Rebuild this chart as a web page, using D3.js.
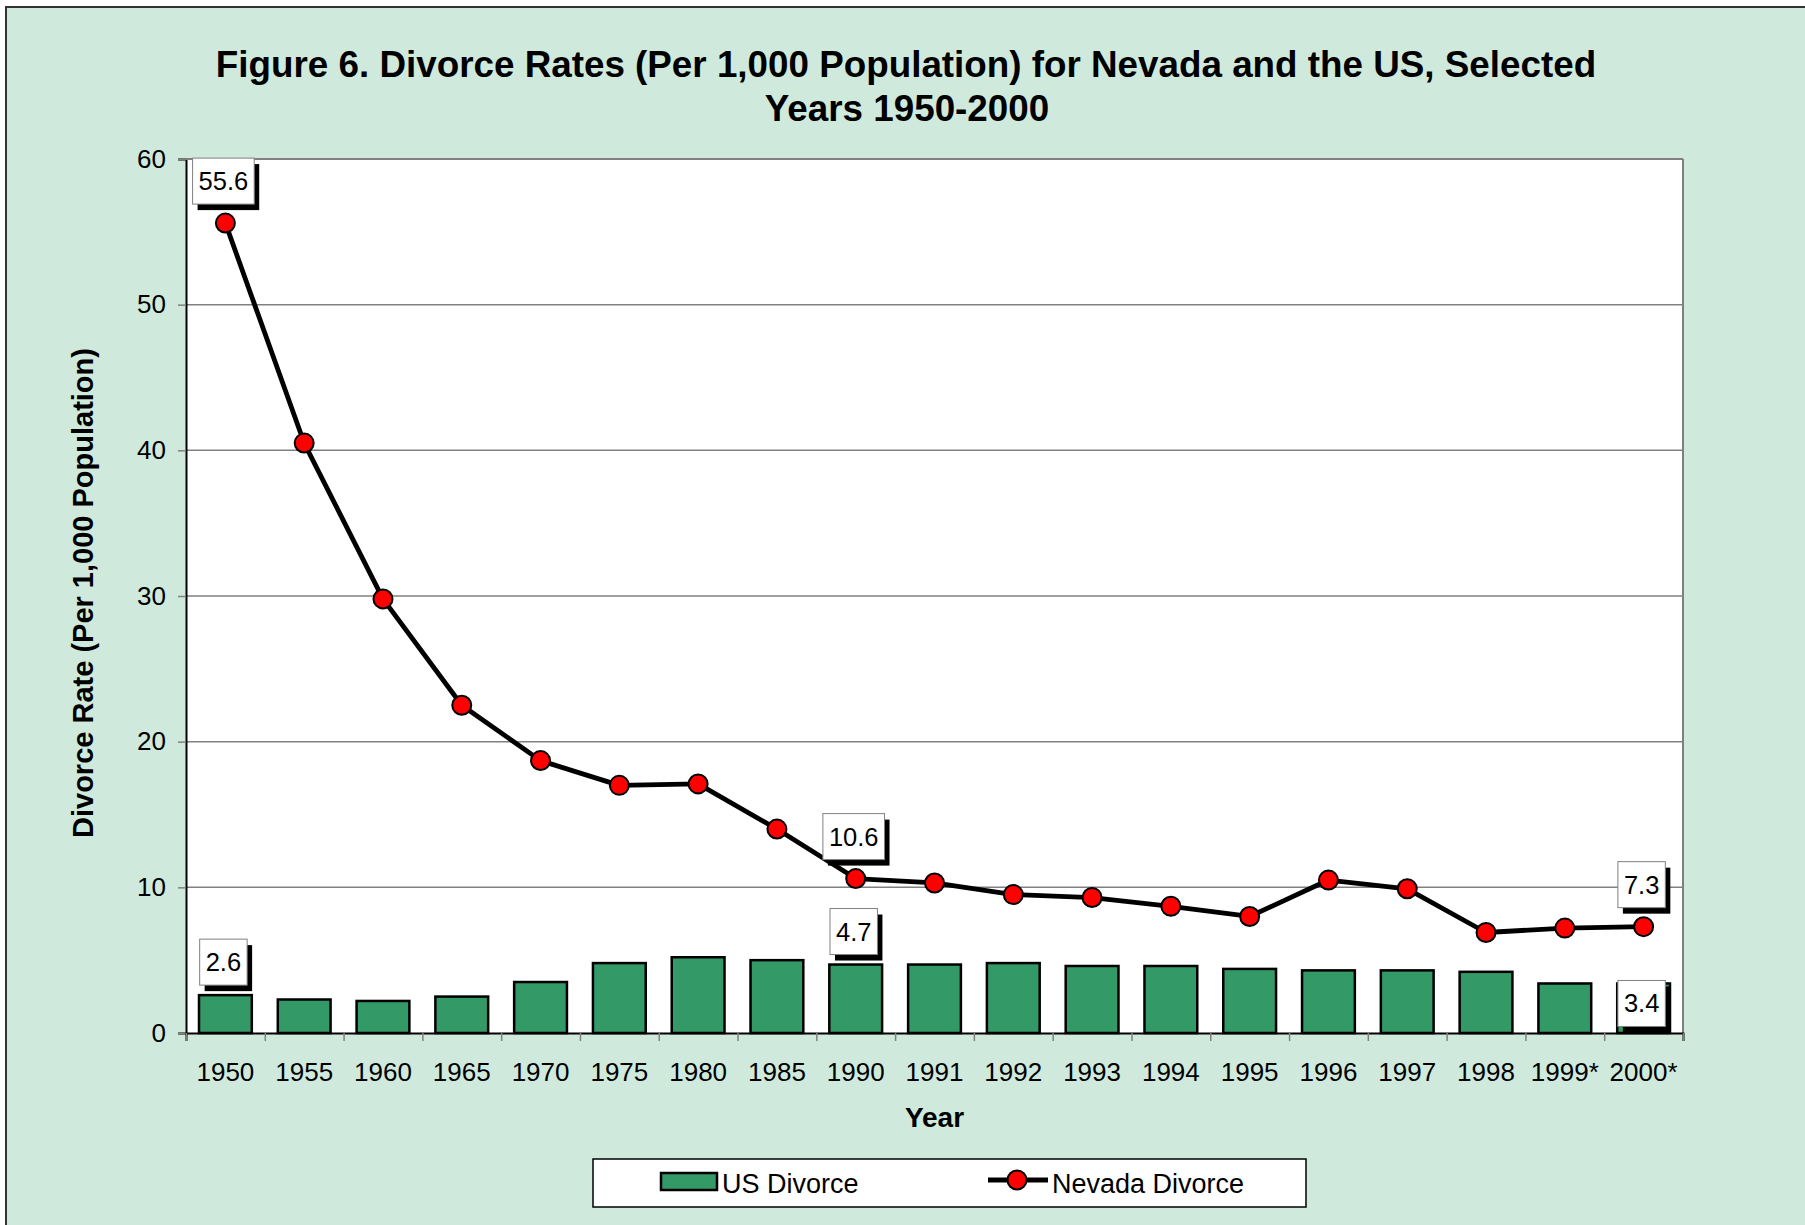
<!DOCTYPE html>
<html>
<head>
<meta charset="utf-8">
<script src="https://cdn.jsdelivr.net/npm/d3@7"></script>
<style>
  body { margin: 0; background: #fff; }
  svg { display: block; font-family: "Liberation Sans", Arial, sans-serif; }
</style>
</head>
<body>
<svg id="chart"></svg>
<script>
// data
const years = ["1950", "1955", "1960", "1965", "1970", "1975", "1980", "1985", "1990",
    "1991", "1992", "1993", "1994", "1995", "1996", "1997", "1998", "1999*", "2000*"];
const usDivorce = [2.6, 2.3, 2.2, 2.5, 3.5, 4.8, 5.2, 5.0, 4.7,
    4.7, 4.8, 4.6, 4.6, 4.4, 4.3, 4.3, 4.2, 3.4, 3.4];
const nevadaDivorce = [55.6, 40.5, 29.8, 22.5, 18.7, 17.0, 17.1, 14.0, 10.6,
    10.3, 9.5, 9.3, 8.7, 8.0, 10.5, 9.9, 6.9, 7.2, 7.3];
const yTicks = [0, 10, 20, 30, 40, 50, 60];
// which points carry a value label
const usLabelled = [0, 8, 18];
const nevadaLabelled = [0, 8, 18];

const width = 1805, height = 1225;
const margins = { top: 159, right: 122, bottom: 192, left: 186 };
const graphWidth = width - margins.left - margins.right;
const graphHeight = height - margins.top - margins.bottom;

const svg = d3.select("#chart")
    .attr("width", width)
    .attr("height", height);

// chart area background + border
svg.append("rect")
    .attr("x", 6).attr("y", 7)
    .attr("width", width + 10).attr("height", height + 10)
    .attr("fill", "#cfeadd")
    .attr("stroke", "#333")
    .attr("stroke-width", 2);

// title
const title = svg.append("text")
    .attr("text-anchor", "middle")
    .attr("font-size", "36.8px")
    .attr("font-weight", "bold")
    .attr("fill", "#000");
title.append("tspan").attr("x", 906).attr("y", 77)
    .text("Figure 6. Divorce Rates (Per 1,000 Population) for Nevada and the US, Selected");
title.append("tspan").attr("x", 907).attr("y", 121)
    .text("Years 1950-2000");

const g = svg.append("g")
    .attr("transform", `translate(${margins.left}, ${margins.top})`);

// scales
const xScale = d3.scaleBand()
    .domain(years)
    .range([0, graphWidth])
    .paddingInner(0.33)
    .paddingOuter(0.165);
const xEdge = d3.scaleLinear()
    .domain([0, years.length])
    .range([0, graphWidth]);
const yScale = d3.scaleLinear()
    .domain([0, 60])
    .range([graphHeight, 0]);
const cx = d => xScale(d) + xScale.bandwidth() / 2;

// plot area
g.append("rect")
    .attr("width", graphWidth)
    .attr("height", graphHeight)
    .attr("fill", "#fff");

// gridlines
g.append("g")
    .selectAll("line")
    .data(yTicks.filter(t => t > 0))
    .join("line")
    .attr("x1", 0).attr("x2", graphWidth)
    .attr("y1", d => yScale(d)).attr("y2", d => yScale(d))
    .attr("stroke", "#808080")
    .attr("stroke-width", 1.5);

// right border
g.append("line")
    .attr("x1", graphWidth).attr("x2", graphWidth)
    .attr("y1", 0).attr("y2", graphHeight)
    .attr("stroke", "#808080").attr("stroke-width", 2);

// bars
g.append("g")
    .selectAll("rect")
    .data(usDivorce)
    .join("rect")
    .attr("x", (d, i) => xScale(years[i]))
    .attr("y", d => yScale(d))
    .attr("width", xScale.bandwidth())
    .attr("height", d => graphHeight - yScale(d))
    .attr("fill", "#339966")
    .attr("stroke", "#000")
    .attr("stroke-width", 2.5);

// axes
const yAxis = d3.axisLeft(yScale)
    .tickValues(yTicks)
    .tickSize(8)
    .tickPadding(12);
const yAxisGroup = g.append("g").call(yAxis);
yAxisGroup.select(".domain").attr("stroke", "#000").attr("stroke-width", 2);
yAxisGroup.selectAll(".tick line").attr("stroke", "#808080").attr("stroke-width", 1.5);
yAxisGroup.selectAll("text")
    .attr("font-size", "26px")
    .attr("font-family", "Liberation Sans, Arial, sans-serif")
    .attr("fill", "#000");

const xTickGroup = g.append("g")
    .attr("transform", `translate(0, ${graphHeight})`)
    .call(d3.axisBottom(xEdge).tickValues(d3.range(years.length + 1)).tickFormat("").tickSize(8));
xTickGroup.select(".domain").attr("stroke", "#000").attr("stroke-width", 2);
xTickGroup.selectAll(".tick line").attr("stroke", "#808080").attr("stroke-width", 1.5);

const xAxisGroup = g.append("g")
    .attr("transform", `translate(0, ${graphHeight})`)
    .call(d3.axisBottom(xScale).tickSize(0).tickPadding(30));
xAxisGroup.select(".domain").remove();
xAxisGroup.selectAll("text")
    .attr("font-size", "26px")
    .attr("font-family", "Liberation Sans, Arial, sans-serif")
    .attr("fill", "#000");

// top border drawn last over the grid
g.append("line")
    .attr("x1", 0).attr("x2", graphWidth)
    .attr("y1", 0).attr("y2", 0)
    .attr("stroke", "#808080").attr("stroke-width", 2);

// Nevada line + markers
const line = d3.line()
    .x((d, i) => cx(years[i]))
    .y(d => yScale(d));
g.append("path")
    .datum(nevadaDivorce)
    .attr("d", line)
    .attr("fill", "none")
    .attr("stroke", "#000")
    .attr("stroke-width", 4.8)
    .attr("stroke-linejoin", "round");
g.append("g")
    .selectAll("circle")
    .data(nevadaDivorce)
    .join("circle")
    .attr("cx", (d, i) => cx(years[i]))
    .attr("cy", d => yScale(d))
    .attr("r", 9.5)
    .attr("fill", "#ff0000")
    .attr("stroke", "#000")
    .attr("stroke-width", 2);

// value labels: white box with a black drop shadow
function dataLabel(value, x, boxBottom) {
    const lab = g.append("g");
    const t = lab.append("text")
        .attr("text-anchor", "middle")
        .attr("font-size", "25.5px")
        .attr("fill", "#000")
        .text(value);
    const w = t.node().getComputedTextLength() + 12;
    const h = 46;
    lab.insert("rect", "text")
        .attr("x", x - w / 2 + 5).attr("y", boxBottom - h + 6)
        .attr("width", w).attr("height", h)
        .attr("fill", "#000");
    lab.insert("rect", "text")
        .attr("x", x - w / 2).attr("y", boxBottom - h)
        .attr("width", w).attr("height", h)
        .attr("fill", "#fff")
        .attr("stroke", "#808080")
        .attr("stroke-width", 1);
    t.attr("x", x).attr("y", boxBottom - h / 2 + 9);
}

nevadaLabelled.forEach(i => {
    dataLabel(nevadaDivorce[i], cx(years[i]) - 2, yScale(nevadaDivorce[i]) - 19);
});
usLabelled.forEach((i, k) => {
    // last one sits pushed down into the bar, as in the original
    const bottom = k === usLabelled.length - 1
        ? yScale(usDivorce[i]) + 43
        : yScale(usDivorce[i]) - 10;
    dataLabel(usDivorce[i], cx(years[i]) - 2, bottom);
});

// axis titles
svg.append("text")
    .attr("transform", `translate(93, ${margins.top + graphHeight / 2 - 3}) rotate(-90)`)
    .attr("text-anchor", "middle")
    .attr("font-size", "29px")
    .attr("font-weight", "bold")
    .text("Divorce Rate (Per 1,000 Population)");
svg.append("text")
    .attr("x", margins.left + graphWidth / 2)
    .attr("y", 1127)
    .attr("text-anchor", "middle")
    .attr("font-size", "28px")
    .attr("font-weight", "bold")
    .text("Year");

// legend
const legend = svg.append("g");
legend.append("rect")
    .attr("x", 593).attr("y", 1159)
    .attr("width", 713).attr("height", 48)
    .attr("fill", "#fff")
    .attr("stroke", "#000")
    .attr("stroke-width", 1.5);
legend.append("rect")
    .attr("x", 661).attr("y", 1173)
    .attr("width", 56).attr("height", 17)
    .attr("fill", "#339966")
    .attr("stroke", "#000")
    .attr("stroke-width", 2.5);
legend.append("text")
    .attr("x", 722).attr("y", 1193)
    .attr("font-size", "27px")
    .text("US Divorce");
legend.append("line")
    .attr("x1", 988).attr("x2", 1048)
    .attr("y1", 1180).attr("y2", 1180)
    .attr("stroke", "#000")
    .attr("stroke-width", 4.8);
legend.append("circle")
    .attr("cx", 1017).attr("cy", 1180)
    .attr("r", 9.5)
    .attr("fill", "#ff0000")
    .attr("stroke", "#000")
    .attr("stroke-width", 2);
legend.append("text")
    .attr("x", 1052).attr("y", 1193)
    .attr("font-size", "27px")
    .text("Nevada Divorce");
</script>
</body>
</html>
